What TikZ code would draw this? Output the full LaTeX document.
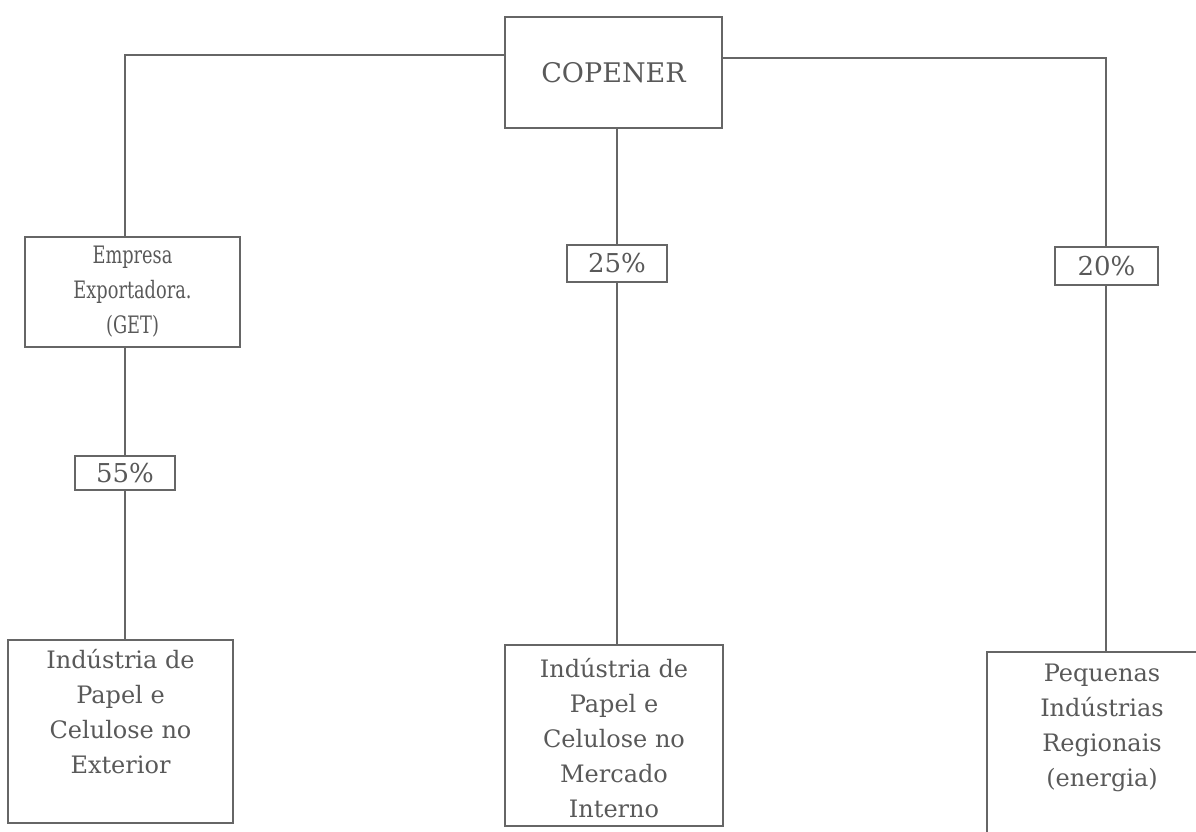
\documentclass[tikz,border=0pt]{standalone}
\usepackage{fontspec}
\setmainfont{DejaVu Serif}
\newfontfamily\narrowserif[FakeStretch=0.74]{DejaVu Serif}
\tikzset{
  conn/.style={draw=black!60, line width=1.1pt},
  boxed/.style={draw=black!60, line width=1.1pt, rectangle, inner sep=0pt, text=black!65, align=center},
  pct/.style={boxed, font=\fontsize{26}{30}\selectfont},
}
\newcommand{\topbox}[4]{\parbox[c][#2pt][t]{#1pt}{\centering\vspace*{#3pt}\fontsize{24}{35}\selectfont #4}}
\begin{document}
\begin{tikzpicture}[x=1pt,y=-1pt]
\useasboundingbox (0,0) rectangle (1196,831);
\coordinate (cl) at (125,55);
\coordinate (cr) at (1106,58);
\node[boxed, minimum width=217pt, minimum height=111pt, font=\fontsize{27}{32}\selectfont] (cop) at (613.5,72.5) {COPENER};
\node[boxed, minimum width=215pt, minimum height=110pt, font=\narrowserif\fontsize{24}{35}\selectfont] (emp) at (132.5,292) {Empresa\\Exportadora.\\(GET)};
\node[pct, minimum width=100pt, minimum height=34pt] (p55) at (125,473) {55\%};
\node[pct, minimum width=100pt, minimum height=37pt] (p25) at (617,263.5) {25\%};
\node[pct, minimum width=103pt, minimum height=38pt] (p20) at (1106.5,266) {20\%};
\node[boxed] (ind1) at (120.5,731.5) {\topbox{225}{183}{4}{\strut Indústria de\\\strut Papel e\\\strut Celulose no\\\strut Exterior}};
\node[boxed] (ind2) at (614,735.5) {\topbox{218}{181}{8}{\strut Indústria de\\\strut Papel e\\\strut Celulose no\\\strut Mercado\\\strut Interno}};
\node[boxed] (ind3) at (1102,752) {\topbox{230}{200}{5}{\strut Pequenas\\\strut Indústrias\\\strut Regionais\\\strut (energia)}};
\draw[conn] (cop.west |- cl) -| (emp.north -| cl);
\draw[conn] (emp.south -| cl) -- (p55.north);
\draw[conn] (p55.south) -- (ind1.north -| p55);
\draw[conn] (cop.south -| p25) -- (p25.north);
\draw[conn] (p25.south) -- (ind2.north -| p25);
\draw[conn] (cop.east |- cr) -| (p20.north -| cr);
\draw[conn] (p20.south -| cr) -- (ind3.north -| cr);
\end{tikzpicture}
\end{document}
